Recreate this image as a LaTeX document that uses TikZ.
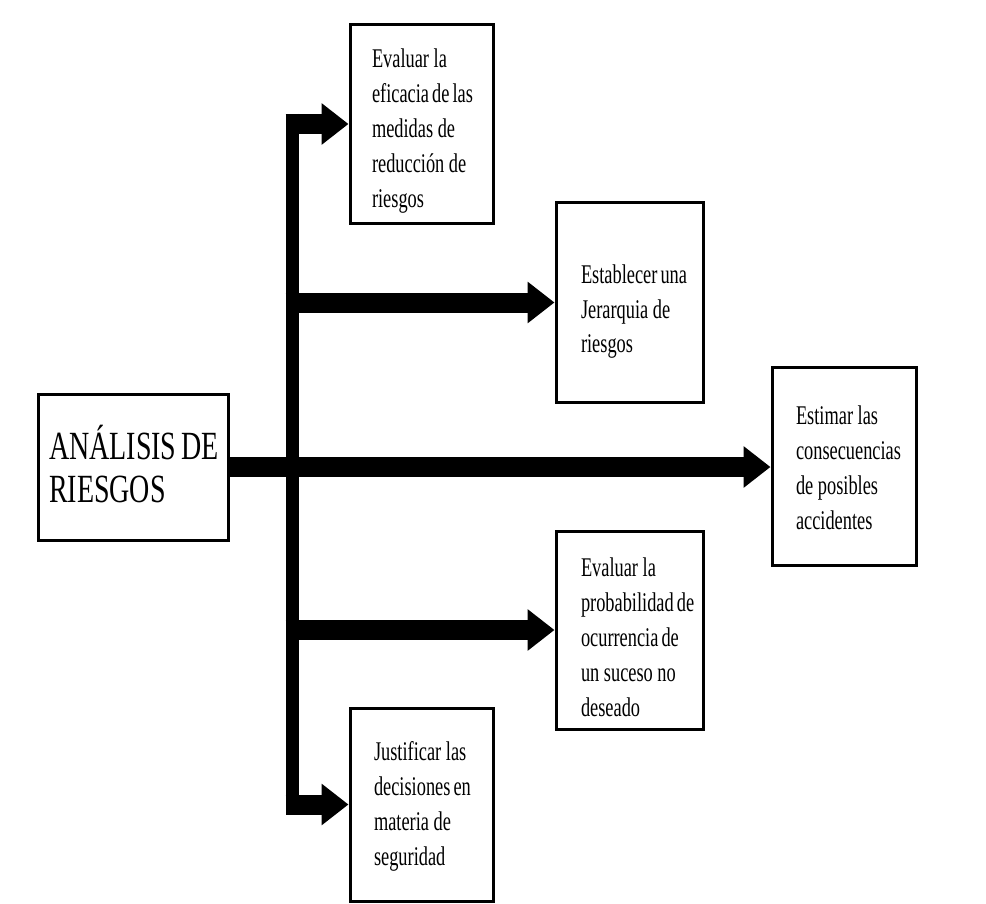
\documentclass[tikz,border=0pt]{standalone}
\usepackage{fontspec}
\setmainfont{Liberation Serif}
\newfontfamily\condsmall[FakeStretch=0.68]{Liberation Serif}
\newfontfamily\condbig[FakeStretch=0.70]{Liberation Serif}
\usetikzlibrary{arrows.meta,calc}
\begin{document}
\begin{tikzpicture}[x=0.5pt,y=-0.5pt,
  box/.style={draw, line width=1.5pt, inner sep=0pt, align=flush left,
    font=\condsmall\fontsize{13.5pt}{17.5pt}\selectfont, text height=10pt},
  mainbox/.style={box, font=\condbig\fontsize{20pt}{21.5pt}\selectfont},
  bar/.style={line width=10pt, -{Triangle[length=13.5pt,width=20pt]}},
  bus/.style={line width=6.5pt}]
\useasboundingbox (0,0) rectangle (986,904);

\node[mainbox, minimum width=95pt, minimum height=73pt, text width=84pt, text depth=18pt]
  (main) at (133,467) {ANÁLISIS~DE\\RIESGOS};

\node[box, minimum width=71.5pt, minimum height=99pt, text width=49.5pt, text depth=66pt]
  (b1) at (421.5,124) {Evaluar~la\\eficacia~de~las\\medidas~de\\reducción~de\\riesgos};
\node[box, minimum width=73.5pt, minimum height=99.5pt, text width=48.5pt, text depth=29.5pt]
  (b2) at (629.5,302.5) {Establecer~una\\Jerarquia~de\\riesgos};
\node[box, minimum width=72pt, minimum height=99pt, text width=48pt, text depth=52pt]
  (b3) at (844,466) {Estimar~las\\consecuencias\\de~posibles\\accidentes};
\node[box, minimum width=73.5pt, minimum height=99pt, text width=48.5pt, text depth=64pt]
  (b4) at (629.5,630) {Evaluar~la\\probabilidad~de\\ocurrencia~de\\un~suceso~no\\deseado};
\node[box, minimum width=71.5pt, minimum height=96.5pt, text width=47.5pt, text depth=54.5pt]
  (b5) at (421.5,804.5) {Justificar~las\\decisiones~en\\materia~de\\seguridad};

\coordinate (busx) at (292,0);
\coordinate (busl) at (285.5,0);
\draw[bus] ($(busx |- b1.west)+(0,-10)$) -- ($(busx |- b5.west)+(0,10)$);
\draw[bar] (busl |- b1.west) -- (b1.west);
\draw[bar] (busl |- b2.west) -- (b2.west);
\draw[bar] (busl |- b4.west) -- (b4.west);
\draw[bar] (busl |- b5.west) -- (b5.west);
\draw[bar] (main.east) -- (main.east -| b3.west);
\end{tikzpicture}
\end{document}
